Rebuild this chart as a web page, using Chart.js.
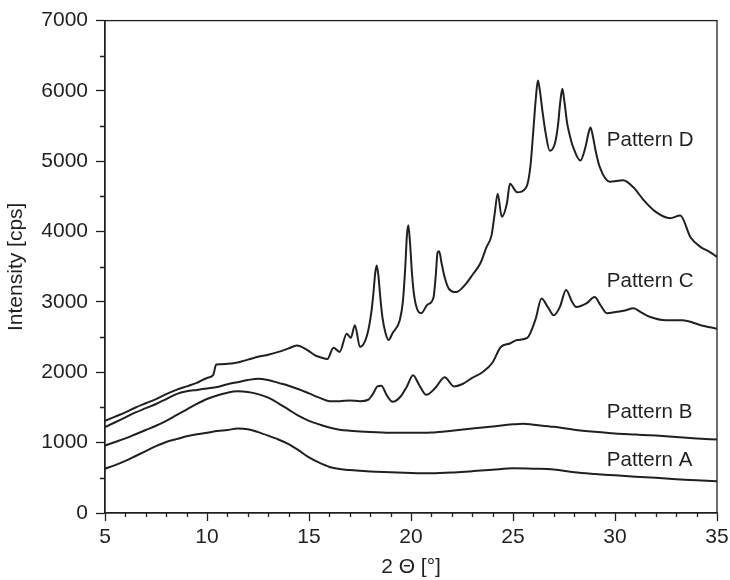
<!DOCTYPE html>
<html>
<head>
<meta charset="utf-8">
<script src="https://cdn.jsdelivr.net/npm/chart.js@4"></script>
<style>
  html, body { margin: 0; padding: 0; background: #fff; }
  #wrap { width: 730px; height: 580px; }
</style>
</head>
<body>
<div id="wrap"><canvas id="xrd"></canvas></div>
<script>
// XRD patterns A-D

const patternAX = [5, 5.5, 6, 6.5, 7, 7.5, 8, 8.5, 9, 9.5, 10, 10.5, 11, 11.5, 12, 12.5, 13, 13.5, 14, 14.5, 15, 15.5, 16, 16.5, 17, 18, 19, 20, 21, 22, 23, 24, 25, 26, 27, 28, 29, 30, 31, 32, 33, 34, 35];
const patternAY = [630, 680, 740, 810, 880, 950, 1010, 1050, 1090, 1120, 1140, 1165, 1180, 1200, 1190, 1150, 1100, 1045, 980, 890, 790, 715, 655, 625, 610, 590, 580, 570, 565, 575, 595, 615, 635, 630, 620, 580, 555, 535, 515, 500, 480, 465, 450];

const patternBX = [5, 5.5, 6, 6.5, 7, 7.5, 8, 8.5, 9, 9.5, 10, 10.5, 11, 11.5, 12, 12.5, 13, 13.5, 14, 14.5, 15, 15.5, 16, 16.5, 17, 18, 19, 20, 21, 22, 23, 24, 25, 25.5, 26, 27, 28, 29, 30, 31, 32, 33, 34, 35];
const patternBY = [960, 1010, 1060, 1120, 1180, 1240, 1310, 1390, 1470, 1550, 1620, 1670, 1710, 1730, 1720, 1690, 1640, 1560, 1470, 1380, 1310, 1260, 1215, 1185, 1170, 1150, 1140, 1140, 1145, 1170, 1200, 1230, 1260, 1270, 1255, 1225, 1185, 1155, 1130, 1115, 1100, 1080, 1060, 1045];

const patternCX = [5, 5.5, 6, 6.5, 7, 7.5, 8, 8.5, 9, 9.5, 10, 10.5, 11, 11.5, 12, 12.5, 13, 13.5, 14, 14.5, 15, 15.5, 16, 16.5, 17, 17.5, 17.9, 18.15, 18.35, 18.55, 18.8, 19.1, 19.5, 19.8, 20.1, 20.4, 20.75, 21.2, 21.65, 22.1, 22.5, 23, 23.5, 24, 24.4, 24.85, 25.2, 25.7, 26.1, 26.4, 26.7, 27, 27.3, 27.6, 27.9, 28.1, 28.6, 29, 29.3, 29.6, 30.1, 30.5, 30.9, 31.3, 31.7, 32.5, 33.3, 34.2, 35];
const patternCY = [1220, 1290, 1360, 1430, 1490, 1550, 1620, 1690, 1730, 1750, 1770, 1790, 1830, 1860, 1890, 1910, 1890, 1850, 1810, 1760, 1700, 1640, 1590, 1590, 1600, 1590, 1610, 1700, 1800, 1810, 1680, 1580, 1660, 1800, 1960, 1820, 1680, 1780, 1930, 1800, 1830, 1920, 2000, 2140, 2360, 2410, 2460, 2490, 2750, 3050, 2930, 2810, 2930, 3170, 3000, 2930, 2980, 3070, 2950, 2840, 2860, 2880, 2910, 2850, 2790, 2740, 2740, 2670, 2620];

const patternDX = [5, 5.5, 6, 6.5, 7, 7.5, 8, 8.5, 9, 9.5, 10, 10.3, 10.45, 11, 11.5, 12, 12.5, 13, 13.5, 14, 14.4, 14.9, 15.3, 15.6, 15.9, 16.2, 16.5, 16.85, 17.05, 17.25, 17.5, 17.85, 18.05, 18.15, 18.25, 18.32, 18.4, 18.5, 18.6, 18.75, 18.9, 19.1, 19.45, 19.6, 19.72, 19.8, 19.87, 19.95, 20.05, 20.15, 20.3, 20.5, 20.8, 21.1, 21.22, 21.3, 21.38, 21.5, 21.65, 21.85, 22.2, 22.7, 23, 23.4, 23.7, 23.95, 24.1, 24.25, 24.45, 24.7, 24.85, 25.2, 25.65, 25.85, 26, 26.12, 26.22, 26.32, 26.45, 26.6, 26.8, 27.05, 27.2, 27.32, 27.42, 27.52, 27.65, 27.8, 27.95, 28.3, 28.55, 28.7, 28.8, 28.92, 29.05, 29.25, 29.75, 30.4, 30.9, 31.4, 32, 32.7, 33.2, 33.7, 34.2, 34.6, 35];
const patternDY = [1310, 1370, 1430, 1500, 1560, 1620, 1690, 1750, 1800, 1850, 1920, 1960, 2110, 2120, 2140, 2180, 2220, 2250, 2290, 2340, 2380, 2320, 2240, 2210, 2190, 2350, 2290, 2550, 2490, 2670, 2360, 2530, 2840, 3100, 3420, 3520, 3380, 3050, 2780, 2560, 2460, 2560, 2740, 3000, 3500, 3950, 4090, 3850, 3400, 3100, 2900, 2840, 2960, 3060, 3400, 3700, 3720, 3550, 3350, 3190, 3140, 3260, 3380, 3550, 3780, 3950, 4250, 4540, 4210, 4400, 4680, 4560, 4630, 4920, 5450, 5900, 6150, 6000, 5700, 5400, 5150, 5250, 5500, 5850, 6030, 5850, 5550, 5350, 5200, 5010, 5200, 5400, 5480, 5350, 5150, 4920, 4710, 4730, 4630, 4450, 4280, 4190, 4230, 3920, 3780, 3720, 3640];

const xTicks = [5, 10, 15, 20, 25, 30, 35];
const yTicks = [0, 1000, 2000, 3000, 4000, 5000, 6000, 7000];

const seriesNames = ['Pattern A', 'Pattern B', 'Pattern C', 'Pattern D'];
// where each name sits next to its trace (data units)
const nameAnchorX = [29.6, 29.6, 29.6, 29.6];
const nameAnchorY = [750, 1430, 3300, 5300];

const INK = '#231f20';
const FONT = "'Liberation Sans', Arial, Helvetica, sans-serif";

function toPoints(xs, ys) {
  return xs.map((x, i) => ({ x: x, y: ys[i] }));
}

function traceDataset(label, xs, ys) {
  return {
    label: label,
    data: toPoints(xs, ys),
    borderColor: INK,
    borderWidth: 2,
    pointRadius: 0,
    cubicInterpolationMode: 'monotone',
    fill: false
  };
}

// box frame, minor ticks and the pattern names
const frameAndLabels = {
  id: 'frameAndLabels',
  afterDraw(chart) {
    const { ctx, chartArea: a, scales: { x, y } } = chart;
    ctx.save();
    ctx.strokeStyle = INK;
    ctx.lineWidth = 1.3;
    ctx.strokeRect(a.left, a.top, a.right - a.left, a.bottom - a.top);

    ctx.beginPath();
    for (let v = 6; v < 35; v++) {
      if (v % 5 === 0) continue;
      const px = Math.round(x.getPixelForValue(v)) + 0.5;
      ctx.moveTo(px, a.bottom);
      ctx.lineTo(px, a.bottom + 4);
    }
    for (let v = 500; v < 7000; v += 1000) {
      const py = Math.round(y.getPixelForValue(v)) + 0.5;
      ctx.moveTo(a.left - 5, py);
      ctx.lineTo(a.left, py);
    }
    ctx.stroke();

    ctx.fillStyle = INK;
    ctx.font = '20.5px ' + FONT;
    ctx.textAlign = 'left';
    ctx.textBaseline = 'middle';
    seriesNames.forEach((name, i) => {
      ctx.fillText(name, x.getPixelForValue(nameAnchorX[i]), y.getPixelForValue(nameAnchorY[i]));
    });
    ctx.restore();
  }
};

new Chart(document.getElementById('xrd'), {
  type: 'line',
  data: {
    datasets: [
      traceDataset('Pattern A', patternAX, patternAY),
      traceDataset('Pattern B', patternBX, patternBY),
      traceDataset('Pattern C', patternCX, patternCY),
      traceDataset('Pattern D', patternDX, patternDY)
    ]
  },
  options: {
    responsive: true,
    maintainAspectRatio: false,
    animation: false,
    layout: { padding: { top: 20, right: 13, left: 0, bottom: 0 } },
    plugins: { legend: { display: false }, tooltip: { enabled: false } },
    scales: {
      x: {
        type: 'linear',
        min: 5,
        max: 35,
        afterBuildTicks: s => { s.ticks = xTicks.map(v => ({ value: v })); },
        afterFit: s => {
          s.height = 67;
          s.paddingLeft = 0;
          s.paddingRight = 0;
        },
        ticks: {
          color: INK,
          font: { family: FONT, size: 21 },
          padding: 4,
          maxRotation: 0,
          callback: v => String(v)
        },
        grid: { drawOnChartArea: false, tickLength: 8, tickColor: INK, tickWidth: 1.3 },
        border: { display: true, color: INK, width: 1.3 },
        title: {
          display: true,
          text: '2 Θ [°]',
          color: INK,
          font: { family: FONT, size: 21 },
          padding: { top: 0, bottom: 0 }
        }
      },
      y: {
        type: 'linear',
        min: 0,
        max: 7000,
        afterBuildTicks: s => { s.ticks = yTicks.map(v => ({ value: v })); },
        afterFit: s => { s.width = 105; },
        ticks: {
          color: INK,
          font: { family: FONT, size: 21 },
          padding: 8,
          callback: v => String(v)
        },
        grid: { drawOnChartArea: false, tickLength: 9, tickColor: INK, tickWidth: 1.3 },
        border: { display: true, color: INK, width: 1.3 },
        title: {
          display: true,
          text: 'Intensity [cps]',
          color: INK,
          font: { family: FONT, size: 21 },
          padding: { top: 4, bottom: 0 }
        }
      }
    }
  },
  plugins: [frameAndLabels]
});
</script>
</body>
</html>
